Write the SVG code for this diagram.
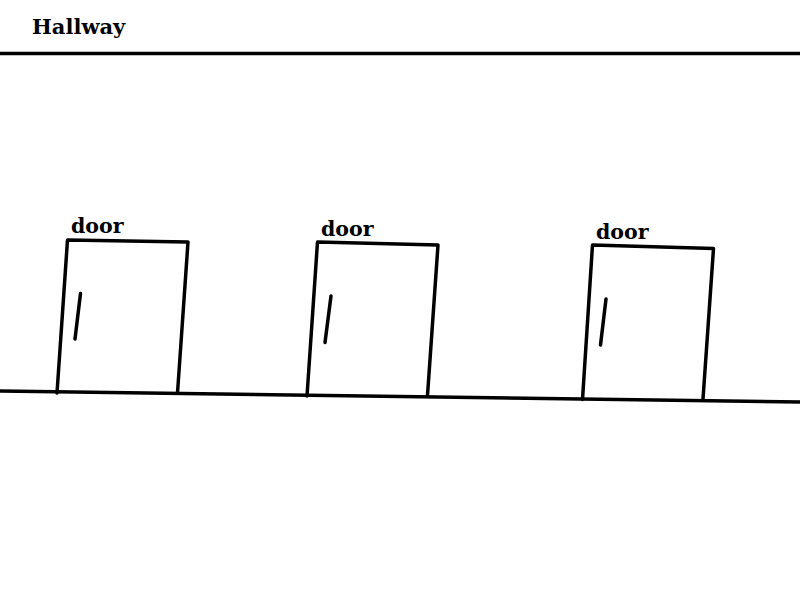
<svg xmlns="http://www.w3.org/2000/svg" width="800" height="600" viewBox="0 0 800 600">
<style>
.ln{fill:none;stroke:#000;stroke-width:3.5;stroke-linecap:round;stroke-linejoin:round}
.hd{fill:none;stroke:#000;stroke-width:3.5;stroke-linecap:round}
.t{font-family:"DejaVu Serif","Liberation Serif",serif;font-weight:bold;fill:#000}
</style>
<rect width="800" height="600" fill="#fff"/>
<g id="title"><text class="t" x="32" y="34" font-size="21">Hallway</text></g>
<g id="walls">
<line class="ln" x1="0" y1="53.5" x2="800" y2="53.5"/>
<line class="ln" x1="0" y1="391" x2="800" y2="402"/>
</g>
<g id="door1">
<path class="ln" d="M57,393 L67.5,240 L188,242 L177.5,393"/>
<line class="hd" x1="80.5" y1="293.5" x2="75" y2="339"/>
<text class="t" x="71" y="233" font-size="20.5">door</text>
</g>
<g id="door2">
<path class="ln" d="M307,396 L317.5,242 L438,245 L427.5,395.5"/>
<line class="hd" x1="331" y1="296" x2="325" y2="342.5"/>
<text class="t" x="321" y="236" font-size="20.5">door</text>
</g>
<g id="door3">
<path class="ln" d="M582.5,399.5 L592.5,245 L713.5,248.5 L703,399"/>
<line class="hd" x1="606" y1="299" x2="600.5" y2="345"/>
<text class="t" x="596" y="239" font-size="20.5">door</text>
</g>
</svg>
